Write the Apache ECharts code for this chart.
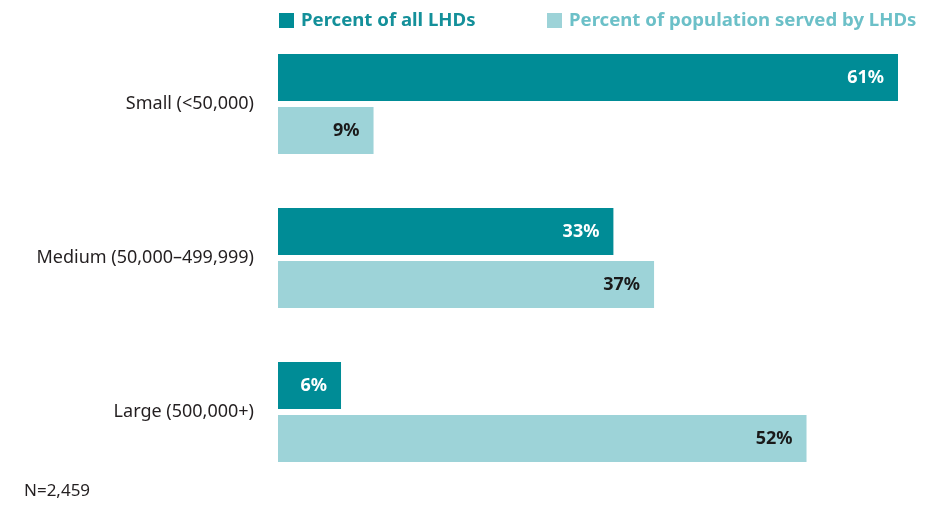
<!DOCTYPE html>
<html>
<head>
<meta charset="utf-8">
<script src="https://cdn.jsdelivr.net/npm/echarts@6/dist/echarts.min.js"></script>
<style>html,body{margin:0;padding:0;background:#fff}#c{width:948px;height:506px}</style>
</head>
<body>
<div id="c"></div>
<script>
const categories = ['Small (<50,000)', 'Medium (50,000–499,999)', 'Large (500,000+)'];
const seriesNames = ['Percent of all LHDs', 'Percent of population served by LHDs'];
const pctAllLHDs = [61, 33, 6.2];
const pctPopulation = [9.4, 37, 52];
const noteText = 'N=2,459';

const DARK = '#008c96';
const LIGHT = '#9dd3d8';
const FONT = '"Noto Sans", sans-serif';

const chart = echarts.init(document.getElementById('c'), null, {renderer: 'canvas'});
const labelFmt = p => Math.round(p.value) + '%';
chart.setOption({
  animation: false,
  textStyle: {fontFamily: FONT},
  grid: {left: 278, top: 27, width: 620, height: 462, containLabel: false},
  legend: [
    {data: [seriesNames[0]], left: 279, top: 11, padding: 0, itemWidth: 15, itemHeight: 15,
     textStyle: {color: '#14909a', fontWeight: 'bold', fontSize: 18.6, fontFamily: FONT, padding: [1, 0, 0, 2]},
     icon: 'rect', selectedMode: false},
    {data: [seriesNames[1]], left: 547, top: 11, padding: 0, itemWidth: 15, itemHeight: 15,
     textStyle: {color: '#6cc0c8', fontWeight: 'bold', fontSize: 18.6, fontFamily: FONT, padding: [1, 0, 0, 2]},
     icon: 'rect', selectedMode: false}
  ],
  xAxis: {type: 'value', min: 0, max: Math.max(...pctAllLHDs, ...pctPopulation),
    show: false},
  yAxis: {type: 'category', data: categories, inverse: true,
    axisLine: {show: false}, axisTick: {show: false},
    axisLabel: {margin: 24, color: '#231f20', fontSize: 18, fontFamily: FONT}},
  series: [
    {name: seriesNames[0], type: 'bar', data: pctAllLHDs, barWidth: 47, barGap: '13%',
     itemStyle: {color: DARK},
     label: {show: true, position: 'insideRight', distance: 14, formatter: labelFmt,
       color: '#fff', fontWeight: 'bold', fontSize: 18, fontFamily: FONT}},
    {name: seriesNames[1], type: 'bar', data: pctPopulation, barWidth: 47,
     itemStyle: {color: LIGHT},
     label: {show: true, position: 'insideRight', distance: 14, formatter: labelFmt,
       color: '#1a1a1a', fontWeight: 'bold', fontSize: 18, fontFamily: FONT}}
  ],
  graphic: [{type: 'text', left: 24, top: 483,
    style: {text: noteText, fill: '#231f20', fontSize: 17, fontFamily: FONT}}]
});
</script>
</body>
</html>
